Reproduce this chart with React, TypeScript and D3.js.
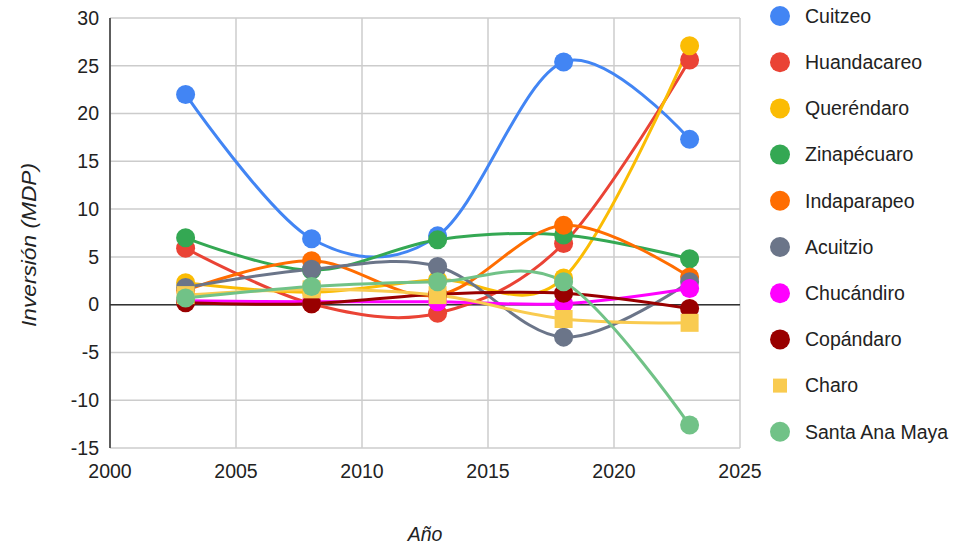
import React from "react";
import * as d3 from "d3";

const years = [2003, 2008, 2013, 2018, 2023];
const seriesNames = ["Cuitzeo", "Huandacareo", "Queréndaro", "Zinapécuaro", "Indaparapeo", "Acuitzio", "Chucándiro", "Copándaro", "Charo", "Santa Ana Maya"];
const cuitzeo = [22.0, 6.9, 7.2, 25.4, 17.3];
const huandacareo = [5.9, 0.1, -0.9, 6.4, 25.6];
const querendaro = [2.3, 1.3, 2.6, 2.8, 27.1];
const zinapecuaro = [7.0, 3.6, 6.8, 7.3, 4.8];
const indaparapeo = [1.5, 4.6, 1.0, 8.3, 2.9];
const acuitzio = [1.8, 3.7, 4.0, -3.4, 2.4];
const chucandiro = [0.4, 0.3, 0.3, 0.1, 1.7];
const copandaro = [0.2, 0.1, 1.1, 1.2, -0.4];
const charo = [1.0, 1.6, 1.0, -1.5, -1.9];
const santaAnaMaya = [0.7, 1.9, 2.4, 2.4, -12.6];
const seriesValues = [cuitzeo, huandacareo, querendaro, zinapecuaro, indaparapeo, acuitzio, chucandiro, copandaro, charo, santaAnaMaya];
const colors = ["#4285F4", "#EA4335", "#FBBC04", "#34A853", "#FF6D01", "#6B7589", "#FF00FF", "#990000", "#F9CB50", "#71C287"];
const shapes = ["circle", "circle", "circle", "circle", "circle", "circle", "circle", "circle", "square", "circle"];
const xTicks = [2000, 2005, 2010, 2015, 2020, 2025];
const yTicks = [-15, -10, -5, 0, 5, 10, 15, 20, 25, 30];

export default function App() {
  const W = 970, H = 550;
  const x = d3.scaleLinear().domain([2000, 2025]).range([110, 740]);
  const y = d3.scaleLinear().domain([-15, 30]).range([448, 18]);
  const line = d3.line<[number, number]>().x(d => x(d[0])).y(d => y(d[1])).curve(d3.curveCardinal.tension(0));
  const font = "Liberation Sans, Arial, sans-serif";
  const fs = 19.5;
  return (
    <svg width={W} height={H} style={{ position: "absolute", left: 0, top: 0, background: "#fff" }} fontFamily={font}>
      {yTicks.map(t => (
        <g key={"y" + t}>
          <line x1={110} x2={740} y1={y(t)} y2={y(t)} stroke="#cccccc" strokeWidth={1.5} />
          <text x={99} y={y(t)} dy="0.35em" textAnchor="end" fontSize={fs} fill="#222">{t}</text>
        </g>
      ))}
      {xTicks.map(t => (
        <g key={"x" + t}>
          <line x1={x(t)} x2={x(t)} y1={18} y2={448} stroke="#cccccc" strokeWidth={1.5} />
          <text x={x(t)} y={471} dy="0.35em" textAnchor="middle" fontSize={fs} fill="#222">{t}</text>
        </g>
      ))}
      <line x1={110} x2={110} y1={18} y2={448} stroke="#333" strokeWidth={1.5} />
      <line x1={110} x2={740} y1={y(0)} y2={y(0)} stroke="#333" strokeWidth={1.5} />
      {seriesValues.map((vals, i) => (
        <path key={"l" + i} d={line(vals.map((v, j) => [years[j], v] as [number, number])) || ""} fill="none" stroke={colors[i]} strokeWidth={3} />
      ))}
      {seriesValues.map((vals, i) => (
        <g key={"p" + i}>
          {vals.map((v, j) => shapes[i] === "square"
            ? <rect key={j} x={x(years[j]) - 9} y={y(v) - 9} width={18} height={18} fill={colors[i]} />
            : <circle key={j} cx={x(years[j])} cy={y(v)} r={9.5} fill={colors[i]} />)}
        </g>
      ))}
      {seriesNames.map((n, i) => {
        const cy = 16 + i * 46.2;
        return (
          <g key={"lg" + i}>
            {shapes[i] === "square"
              ? <rect x={773} y={cy - 7} width={14} height={14} fill={colors[i]} />
              : <circle cx={780} cy={cy} r={10} fill={colors[i]} />}
            <text x={805} y={cy} dy="0.35em" fontSize={fs} fill="#222">{n}</text>
          </g>
        );
      })}
      <text x={425} y={541} textAnchor="middle" fontSize={fs} fontStyle="italic" fill="#222">Año</text>
      <text transform={`translate(36,245) rotate(-90)`} textAnchor="middle" fontSize={20} fontStyle="italic" fill="#222" textLength={164} lengthAdjust="spacingAndGlyphs">Inversión (MDP)</text>
    </svg>
  );
}
